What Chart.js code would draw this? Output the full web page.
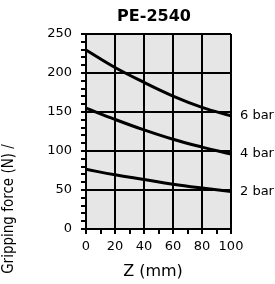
<!DOCTYPE html>
<html>
<head>
<meta charset="utf-8">
<script src="https://cdn.jsdelivr.net/npm/chart.js@4/dist/chart.umd.min.js"></script>
<style>
  html, body { margin: 0; padding: 0; background: #fff; }
  #wrap { width: 275px; height: 284px; position: relative; }
</style>
</head>
<body>
<div id="wrap"><canvas id="chart" width="275" height="284"></canvas></div>
<script>
// values
const zMm = [0, 20, 40, 60, 80, 100];
const force6bar = [229.5, 207, 188, 170.5, 156, 145];
const force4bar = [155, 140.5, 127, 115, 105, 96];
const force2bar = [76.5, 69.5, 63.5, 57.5, 52.5, 48];
const seriesLabels = ['6 bar', '4 bar', '2 bar'];
const chartTitle = 'PE-2540';
const xTitle = 'Z (mm)';
const yTitle = 'Gripping force (N) /';

const pts = (ys) => zMm.map((x, i) => ({ x, y: ys[i] }));
const ink = '#000';

// gray plot background, titles and "n bar" end labels
const decor = {
  id: 'decor',
  beforeDraw(chart) {
    const { ctx, chartArea: a } = chart;
    ctx.save();
    ctx.fillStyle = '#e6e6e6';
    ctx.fillRect(a.left, a.top, a.right - a.left, a.bottom - a.top);
    ctx.restore();
  },
  afterDraw(chart) {
    const { ctx, chartArea: a, scales } = chart;
    ctx.save();
    ctx.fillStyle = ink;
    ctx.textBaseline = 'middle';

    ctx.font = 'bold 16px "DejaVu Sans"';
    ctx.textAlign = 'center';
    ctx.fillText(chartTitle, 154, 17);

    ctx.font = '16px "DejaVu Sans"';
    ctx.fillText(xTitle, 153, 272);

    ctx.translate(9, 209);
    ctx.rotate(-Math.PI / 2);
    ctx.font = '15px "DejaVu Sans Condensed"';
    ctx.fillText(yTitle, 0, 0);
    ctx.restore();

    ctx.save();
    ctx.fillStyle = ink;
    ctx.font = '13px "DejaVu Sans"';
    ctx.textAlign = 'left';
    ctx.textBaseline = 'middle';
    chart.data.datasets.forEach((ds, i) => {
      const last = ds.data[ds.data.length - 1];
      ctx.fillText(seriesLabels[i], a.right + 9, scales.y.getPixelForValue(last.y));
    });
    ctx.restore();
  }
};

const lineDs = (ys) => ({
  data: pts(ys),
  borderColor: ink,
  borderWidth: 3,
  pointRadius: 0,
  fill: false,
  tension: 0.4
});

new Chart(document.getElementById('chart'), {
  type: 'line',
  data: { datasets: [lineDs(force6bar), lineDs(force4bar), lineDs(force2bar)] },
  options: {
    responsive: false,
    animation: false,
    layout: { padding: { left: 0, top: 34, right: 44, bottom: 0 } },
    plugins: { legend: { display: false }, tooltip: { enabled: false } },
    scales: {
      x: {
        type: 'linear', min: 0, max: 100,
        afterFit: (s) => { s.height = 55; },
        border: { color: ink, width: 2 },
        grid: {
          color: (c) => (c.tick && c.tick.value % 20 === 0 ? ink : 'rgba(0,0,0,0)'),
          tickColor: ink, lineWidth: 2, tickWidth: 2, tickLength: 5
        },
        ticks: {
          stepSize: 10, autoSkip: false, maxRotation: 0, padding: 5, color: ink,
          font: { family: 'DejaVu Sans', size: 13 },
          callback: (v) => (v % 20 === 0 ? String(v) : '')
        }
      },
      y: {
        min: 0, max: 250,
        afterFit: (s) => { s.width = 86; },
        border: { color: ink, width: 2 },
        grid: {
          color: (c) => (c.tick && c.tick.value % 50 === 0 ? ink : 'rgba(0,0,0,0)'),
          tickColor: ink, lineWidth: 2, tickWidth: 2, tickLength: 5
        },
        ticks: {
          stepSize: 10, autoSkip: false, padding: 9, color: ink,
          font: { family: 'DejaVu Sans', size: 13 },
          callback: (v) => (v % 50 === 0 ? String(v) : '')
        }
      }
    }
  },
  plugins: [decor]
});
</script>
</body>
</html>
